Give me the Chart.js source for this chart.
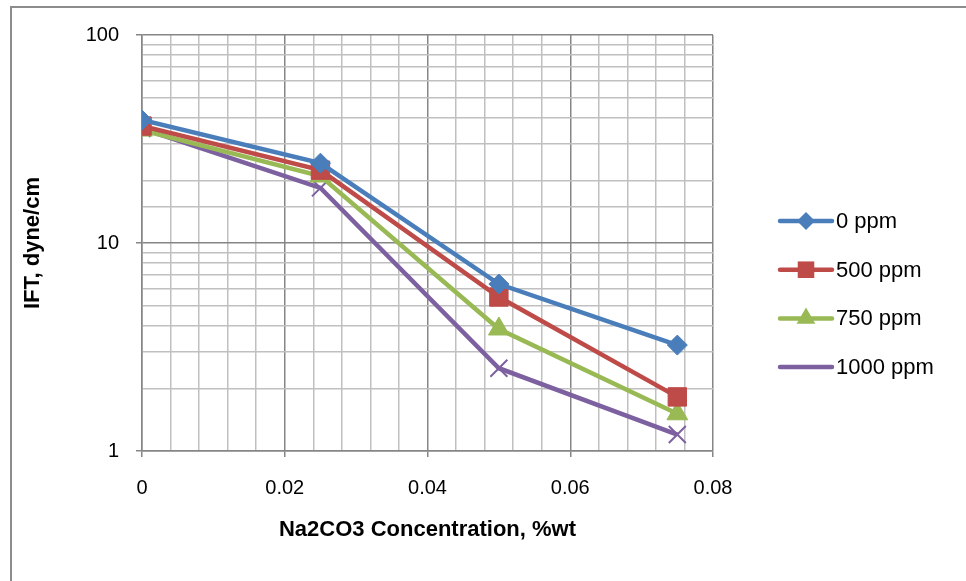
<!DOCTYPE html>
<html>
<head>
<meta charset="utf-8">
<script src="https://cdn.jsdelivr.net/npm/chart.js@4"></script>
<style>
  html, body { margin: 0; padding: 0; background: #fff; }
  #wrap { position: relative; width: 966px; height: 581px; overflow: hidden; }
  #frame { position: absolute; left: 10px; top: 6px; width: 1000px; height: 700px; border: 2px solid #8c8c8c; }
  canvas { position: absolute; left: 0; top: 0; }
</style>
</head>
<body>
<div id="wrap">
  <div id="frame"></div>
  <canvas id="grafico" width="966" height="581"></canvas>
</div>
<script>
// concentrazione Na2CO3 (%wt)
const concentrazioni = [0, 0.025, 0.05, 0.075];
// IFT, dyne/cm
const ift0 = [39, 24.2, 6.35, 3.23];
const ift500 = [36.5, 22.4, 5.5, 1.82];
const ift750 = [34.9, 21, 3.86, 1.51];
const ift1000 = [35.5, 18.4, 2.5, 1.2];
const nomiSerie = ["0 ppm", "500 ppm", "750 ppm", "1000 ppm"];
const yEtichette = [1, 10, 100];
const xEtichette = [0, 0.02, 0.04, 0.06, 0.08];

const colori = ["#4a7ebb", "#be4b48", "#98b954", "#7d60a0"];
const marker = ["rectRot", "rect", "triangle", "crossRot"];
const raggi = [10, 13, 12, 12];
const valori = [ift0, ift500, ift750, ift1000];

const FONT = "'Liberation Sans', Arial, sans-serif";

function punti(serie) {
    return concentrazioni.map((x, i) => ({ x: x, y: serie[i] }));
}

const datasets = nomiSerie.map((nome, i) => ({
    label: nome,
    data: punti(valori[i]),
    borderColor: colori[i],
    backgroundColor: colori[i],
    borderWidth: 4.5,
    pointStyle: marker[i],
    pointRadius: raggi[i],
    pointHoverRadius: raggi[i],
    pointBorderWidth: i === 3 ? 2 : 1,
    pointBorderColor: colori[i],
    pointBackgroundColor: colori[i],
    tension: 0
}));

function isEtichettaX(v) {
    return xEtichette.some(e => Math.abs(v - e) < 1e-9);
}
function isEtichettaY(v) {
    return yEtichette.some(e => Math.abs(v - e) < 1e-9);
}

// legenda disegnata a mano: linea con marker in mezzo
const legendaPlugin = {
    id: "legendaLinee",
    afterDraw(chart) {
        const ctx = chart.ctx;
        const x0 = 780, x1 = 832, yStart = 221, passo = 48.7;
        nomiSerie.forEach((nome, i) => {
            const y = yStart + i * passo;
            ctx.save();
            ctx.strokeStyle = colori[i];
            ctx.lineWidth = 4.5;
            ctx.lineCap = "round";
            ctx.beginPath();
            ctx.moveTo(x0, y);
            ctx.lineTo(x1, y);
            ctx.stroke();
            ctx.fillStyle = colori[i];
            ctx.strokeStyle = colori[i];
            ctx.lineWidth = i === 3 ? 2 : 1;
            Chart.helpers.drawPoint(ctx, { pointStyle: marker[i], radius: raggi[i] * 0.9, rotation: 0 }, (x0 + x1) / 2, y);
            ctx.fillStyle = "#000";
            ctx.font = "22px " + FONT;
            ctx.textBaseline = "middle";
            ctx.fillText(nome, x1 + 4, y + 1);
            ctx.restore();
        });
    }
};

new Chart(document.getElementById("grafico").getContext("2d"), {
    type: "line",
    data: { datasets: datasets },
    options: {
        responsive: false,
        animation: false,
        layout: { padding: { left: 0, right: 253, top: 35, bottom: 0 } },
        plugins: { legend: { display: false }, tooltip: { enabled: false } },
        scales: {
            x: {
                type: "linear",
                min: 0,
                max: 0.08,
                afterFit(scale) { scale.height = 130; },
                ticks: {
                    stepSize: 0.004,
                    autoSkip: false,
                    maxRotation: 0,
                    padding: 19,
                    color: "#000",
                    font: { family: FONT, size: 20 },
                    callback: v => isEtichettaX(v) ? String(Math.round(v * 100) / 100) : ""
                },
                grid: {
                    color: ctx => isEtichettaX(ctx.tick.value) ? "#868686" : "#c0c0c0",
                    lineWidth: 1.5,
                    tickLength: 6,
                    tickColor: ctx => isEtichettaX(ctx.tick.value) ? "#868686" : "rgba(0,0,0,0)"
                },
                border: { color: "#868686", width: 1.5 },
                title: {
                    display: true,
                    text: "Na2CO3 Concentration, %wt",
                    color: "#000",
                    font: { family: FONT, size: 22, weight: "bold" },
                    padding: { top: 4, bottom: 38 }
                }
            },
            y: {
                type: "logarithmic",
                min: 1,
                max: 100,
                afterFit(scale) { scale.width = 142; },
                ticks: {
                    autoSkip: false,
                    padding: 17,
                    color: "#000",
                    font: { family: FONT, size: 20 },
                    callback: v => isEtichettaY(v) ? String(v) : ""
                },
                grid: {
                    color: ctx => isEtichettaY(ctx.tick.value) ? "#868686" : "#c0c0c0",
                    lineWidth: 1.5,
                    tickLength: 6,
                    tickColor: ctx => isEtichettaY(ctx.tick.value) ? "#868686" : "rgba(0,0,0,0)"
                },
                border: { color: "#868686", width: 1.5 },
                title: {
                    display: true,
                    text: "IFT, dyne/cm",
                    color: "#000",
                    font: { family: FONT, size: 22, weight: "bold" },
                    padding: { top: 20, bottom: 0 }
                }
            }
        }
    },
    plugins: [legendaPlugin]
});
</script>
</body>
</html>
